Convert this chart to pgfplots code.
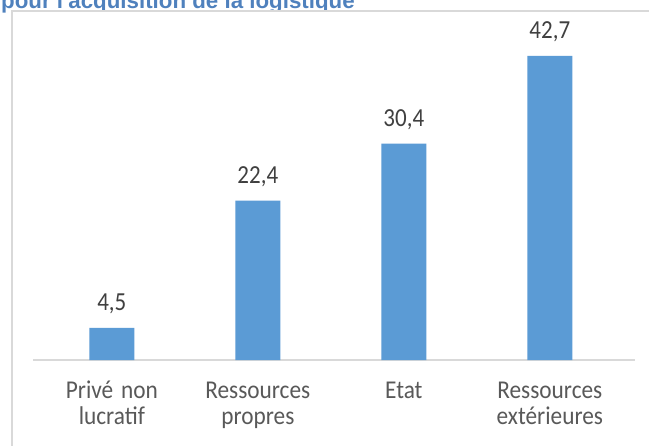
\documentclass[border=0pt]{standalone}
\usepackage{pgfplots}
\pgfplotsset{compat=1.18}
\usepackage{fontspec}
\setmainfont{Carlito}
\newfontfamily\titlefont{Liberation Sans}
\definecolor{barblue}{HTML}{5B9BD5}
\definecolor{titleblue}{HTML}{4F81BD}
\definecolor{framegray}{HTML}{D9D9D9}
\definecolor{valgray}{HTML}{404040}
\definecolor{tickgray}{HTML}{595959}
\begin{document}
\begin{tikzpicture}
\path[use as bounding box] (0,0) rectangle (649bp,446bp);
\node[anchor=base west, inner sep=0, text=titleblue] at (1bp,437.5bp)
  {\titlefont\bfseries\fontsize{22.3bp}{26bp}\selectfont pour l'acquisition de la logistique};
\draw[framegray, line width=2bp, fill=white] (11.5bp,-10bp) -- (11.5bp,435bp) -- (660bp,435bp) -- (660bp,-10bp);
\begin{axis}[
  at={(33bp,86bp)}, anchor=south west,
  x=146bp, y=7.12bp,
  xmin=-0.54, xmax=3.58, ymin=0, ymax=45,
  axis x line*=bottom, axis y line=none,
  x axis line style={framegray, line width=2bp},
  ytick=\empty,
  xtick={0,1,2,3},
  xticklabels={Privé non\\lucratif, Ressources\\propres, Etat, Ressources\\extérieures},
  major tick length=0pt,
  xticklabel style={text=tickgray, font=\fontsize{23.3bp}{23.9bp}\selectfont,
    text width=140bp, align=center, anchor=base, inner sep=0pt, yshift=-38.5bp, yscale=1.1},
  ybar, bar width=45bp,
  nodes near coords,
  nodes near coords style={text=valgray, font=\fontsize{23bp}{26bp}\selectfont,
    anchor=base, inner sep=0pt, yshift=17bp, yscale=1.13,
    /pgf/number format/.cd, assume math mode=true, use comma, fixed, fixed zerofill, precision=1},
  clip=false,
]
\addplot[fill=barblue, draw=none] coordinates {(0,4.5) (1,22.4) (2,30.4) (3,42.7)};
\end{axis}
\end{tikzpicture}
\end{document}
